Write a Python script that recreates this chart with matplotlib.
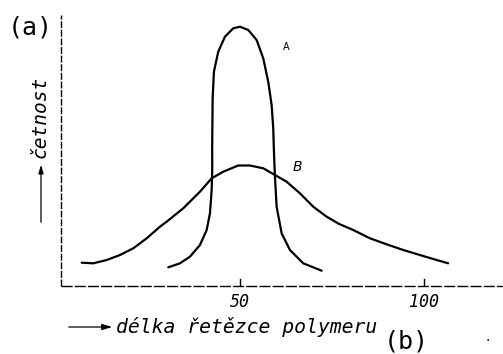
import matplotlib
matplotlib.use("Agg")
import matplotlib.pyplot as plt

# Curve A (narrow distribution): chain length, frequency (arbitrary units)
a_x = [30.52, 33.70, 36.41, 39.13, 40.95, 41.85, 42.31, 42.47, 42.45, 42.58,
       42.93, 44.10, 45.92, 48.18, 50.0, 52.26, 54.54, 56.33, 57.69, 58.61,
       59.05, 59.24, 59.51, 59.97, 61.33, 63.59, 67.20, 72.20]
a_y = [18.7, 22.7, 29.3, 41, 56, 72.7, 96, 116, 138, 187.7,
       214.3, 234.3, 249.3, 257.7, 259.3, 256, 246, 227.7, 204.3, 181,
       157.7, 134.3, 109.3, 79.3, 52.7, 36, 22.7, 15.3]

# Curve B (broad distribution)
b_x = [6.98, 10.14, 13.78, 17.39, 21.01, 24.65, 28.26, 30.08, 34.59, 39.13,
       42.31, 45.46, 49.54, 52.72, 56.33, 59.51, 62.69, 66.30, 69.92, 73.56,
       76.98, 80.79, 85.33, 89.86, 94.38, 98.91, 103.45, 106.60]
b_y = [23.3, 22.7, 26, 31, 37.7, 47.7, 59.3, 64.3, 77.7, 94.3,
       107.7, 114.3, 120.5, 120.5, 117.7, 111, 104.3, 92.7, 79.3, 69.3,
       62, 56, 47.7, 41.7, 36, 31, 26, 22.7]

xticks = [50, 100]
xtick_labels = ["50", "100"]

W, H = 503, 354
fig = plt.figure(figsize=(W / 100, H / 100), dpi=100)
fig.patch.set_facecolor("white")
ax = fig.add_axes([61 / W, (H - 286) / H, (W - 61) / W, (286 - 15) / H])
ax.set_xlim(1.36, 121.5)
ax.set_ylim(0, 271)
ax.axis("off")

ax.plot(a_x, a_y, color="black", lw=1.6, solid_capstyle="round", solid_joinstyle="round")
ax.plot(b_x, b_y, color="black", lw=1.6, solid_capstyle="round", solid_joinstyle="round")

# axes lines (scanned, broken look)
ax.plot([1.36, 1.36], [0, 271], color="black", lw=1.0, ls=(0, (5, 1.2)), clip_on=False)
ax.plot([1.36, 121.5], [0, 0], color="black", lw=1.0, ls=(0, (8, 1.5)), clip_on=False)

MONO = "DejaVu Sans Mono"

for t, lab in zip(xticks, xtick_labels):
    ax.plot([t, t], [0, 7], color="black", lw=1.0)
    ax.text(t, -7, lab, ha="center", va="top", fontsize=12, style="oblique",
            family=MONO)

ax.text(62.5, 239, "A", fontsize=7, ha="center", va="center", family="DejaVu Sans")
ax.text(65.5, 119, "B", fontsize=10, ha="center", va="center", style="italic",
        family="DejaVu Sans")

def fx(px):
    return px / W

def fy(py):
    return 1 - py / H

fig.text(fx(8), fy(27), "(a)", fontsize=18, family=MONO, va="center", ha="left")
fig.text(fx(488), fy(337), ".", fontsize=10, va="center", ha="center")
fig.text(fx(384), fy(341), "(b)", fontsize=18, family=MONO, va="center", ha="left")

# y-label with arrow
fig.text(fx(40), fy(117), "četnost", rotation=90, fontsize=14, style="oblique",
         family=MONO, va="center", ha="center")
fig.add_artist(matplotlib.patches.FancyArrowPatch(
    (fx(41), fy(225)), (fx(41), fy(162)), transform=fig.transFigure,
    arrowstyle="-|>,head_length=5,head_width=1.5", color="black", lw=0.9))

# x-label with arrow
fig.text(fx(116), fy(327), "délka řetězce polymeru", fontsize=14.2, style="oblique",
         family=MONO, va="center", ha="left")
fig.add_artist(matplotlib.patches.FancyArrowPatch(
    (fx(66), fy(327)), (fx(115), fy(327)), transform=fig.transFigure,
    arrowstyle="-|>,head_length=6,head_width=1.8", color="black", lw=0.9))

fig.savefig("out.png", dpi=100, facecolor="white")
